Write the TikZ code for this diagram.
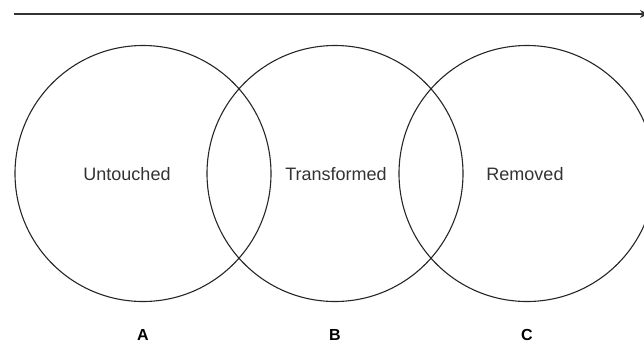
\documentclass[tikz,border=0pt]{standalone}
\usepackage{fontspec}
\setmainfont{Liberation Sans}
\tikzset{
  zone/.style={circle, draw=black!85, line width=1.1pt, minimum size=256pt, inner sep=0pt},
  zlabel/.style={font=\fontsize{18}{21}\selectfont, text=black!80},
  letter/.style={font=\bfseries\fontsize{16}{19}\selectfont, text=black},
  timeline/.style={draw=black!80, line width=1.8pt, -{Stealth[length=8pt,width=8pt]}}
}
\usetikzlibrary{arrows.meta}
\begin{document}
\begin{tikzpicture}[x=1pt,y=-1pt]
\path[use as bounding box] (0,0) rectangle (644,349);
\clip (0,0) rectangle (644,349);
\coordinate (s) at (14,14);
\coordinate (e) at (648,14);
\draw[timeline] (s) -- (e);
\node[zone] (ca) at (143,173.5) {};
\node[zone] (cb) at (335,173.5) {};
\node[zone] (cc) at (527,173.5) {};
\node[zlabel] (ta) at (127,174) {Untouched};
\node[zlabel] (tb) at (336,174) {Transformed};
\node[zlabel] (tc) at (525,174) {Removed};
\node[letter] (la) at (143,335) {A};
\node[letter] (lb) at (335,335) {B};
\node[letter] (lc) at (527,335) {C};
\end{tikzpicture}
\end{document}
